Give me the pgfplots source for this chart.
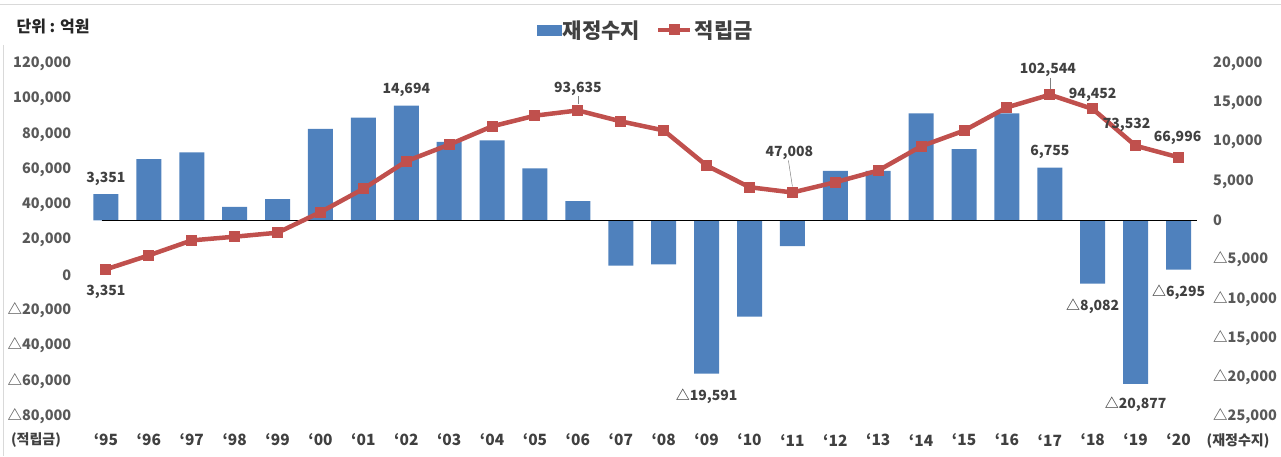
\documentclass[border=0pt]{standalone}
\usepackage{fontspec}
\setmainfont{Noto Sans CJK KR}
\usepackage{pgfplots}
\pgfplotsset{compat=1.18}
\usepackage{pgfplotstable}

\definecolor{barblue}{HTML}{4F81BD}
\definecolor{linered}{HTML}{C0504D}
\definecolor{ticklab}{HTML}{595959}
\definecolor{datalab}{HTML}{404040}

% 재정수지 (right axis)
\pgfplotstableread{
x bal
0 3351
1 7850
2 8710
3 1750
4 2740
5 11720
6 13130
7 14694
8 10060
9 10240
10 6660
11 2480
12 -5790
13 -5610
14 -19591
15 -12310
16 -3270
17 6350
18 6350
19 13690
20 9130
21 13690
22 6755
23 -8082
24 -20877
25 -6295
}\bartable

% 적립금 (left axis)
\pgfplotstableread{
x res
0 3351
1 11280
2 19780
3 21880
4 24150
5 35830
6 49090
7 64740
8 74200
9 84580
10 90650
11 93635
12 87410
13 82260
14 62300
15 50000
16 47008
17 52830
18 59470
19 73240
20 82140
21 95350
22 102544
23 94452
24 73532
25 66996
}\linetable

\tikzset{lab/.style={font=\fontsize{14}{14}\selectfont\bfseries, text=datalab, inner sep=1pt}}

\begin{document}
\begin{tikzpicture}
\useasboundingbox (0pt,0pt) rectangle (1281pt,456pt);
\draw[gray!30, line width=0.8pt] (0pt,452pt) -- (1281pt,452pt);
\draw[gray!30, line width=0.8pt] (3pt,411pt) -- (3pt,0pt);

\node[anchor=west, font=\fontsize{16}{16}\selectfont\bfseries, text=black!85] at (13pt,429pt) {단위 : 억원};
\node[font=\fontsize{14}{14}\selectfont\bfseries, text=datalab] at (36pt,16pt) {(적립금)};
\node[font=\fontsize{14}{14}\selectfont\bfseries, text=datalab] at (1238pt,15pt) {(재정수지)};

\pgfplotsset{
  common/.style={
    at={(84.5pt,40pt)}, anchor=south west,
    scale only axis, width=1115.5pt, height=352pt,
    xmin=-0.5, xmax=25.5,
    axis line style={draw=none}, major tick length=0pt,
    scaled y ticks=false, scaled x ticks=false,
    clip=false,
  },
}

% ---------------- bars: 재정수지 ----------------
\begin{axis}[common,
  ymin=-25000, ymax=20000,
  xtick={0,...,25},
  xticklabels={`95,`96,`97,`98,`99,`00,`01,`02,`03,`04,`05,`06,`07,`08,`09,`10,`11,`12,`13,`14,`15,`16,`17,`18,`19,`20},
  xticklabel style={font=\fontsize{15.5}{15.5}\selectfont\bfseries, text=datalab, anchor=center, yshift=-24pt},
  ytick={-25000,-20000,-15000,-10000,-5000,0,5000,10000,15000,20000},
  yticklabels={{△25,000},{△20,000},{△15,000},{△10,000},{△5,000},{0},{5,000},{10,000},{15,000},{20,000}},
  yticklabel pos=right,
  yticklabel style={font=\fontsize{14.5}{14.5}\selectfont\bfseries, text=ticklab, anchor=west, inner sep=0pt, xshift=13pt},
]
\addplot[ybar, bar width=25pt, fill=barblue, draw=none] table[x=x, y=bal]{\bartable};
\draw[black, line width=1.5pt] (axis cs:-0.1,0) -- (axis cs:25.43,0);
\node[lab, yshift=15pt] at (axis cs:0,3351) {3,351};
\node[lab, yshift=15.5pt] at (axis cs:7,14694) {14,694};
\node[lab, yshift=15.5pt] at (axis cs:22,6755) {6,755};
\node[lab, yshift=-22.5pt] at (axis cs:14,-19591) {△19,591};
\node[lab, yshift=-22.5pt] at (axis cs:23,-8082) {△8,082};
\node[lab, yshift=-21pt] at (axis cs:24,-20877) {△20,877};
\node[lab, yshift=-22.5pt] at (axis cs:25,-6295) {△6,295};
\end{axis}

% ---------------- line: 적립금 ----------------
\begin{axis}[common,
  ymin=-80000, ymax=120000,
  xtick=\empty,
  ytick={-80000,-60000,-40000,-20000,0,20000,40000,60000,80000,100000,120000},
  yticklabels={{△80,000},{△60,000},{△40,000},{△20,000},{0},{20,000},{40,000},{60,000},{80,000},{100,000},{120,000}},
  yticklabel style={font=\fontsize{14.5}{14.5}\selectfont\bfseries, text=ticklab, anchor=east, inner sep=0pt, xshift=-13pt},
  legend columns=2,
  legend style={at={(0.503,1.0966)}, anchor=center, draw=none, fill=none,
    font=\fontsize{21}{21}\selectfont\bfseries, text=datalab,
    /tikz/every even column/.append style={column sep=14pt}},
]
\addlegendimage{legend image code/.code={\fill[barblue] (0pt,-5pt) rectangle (24pt,5pt);}}
\addlegendentry{재정수지}
\addplot[linered, line width=4.5pt, mark=square*, mark size=5pt, mark options={solid, line width=1pt},
  legend image code/.code={\draw[mark repeat=2, mark phase=2] plot coordinates {(0pt,0pt) (16pt,0pt) (32pt,0pt)};}]
  table[x=x, y=res]{\linetable};
\addlegendentry{적립금}
\draw[gray, line width=0.5pt] ([shift={(0pt,6pt)}]axis cs:11,93635) -- ([shift={(0pt,14pt)}]axis cs:11,93635);
\draw[gray, line width=0.5pt] ([shift={(0pt,6pt)}]axis cs:16,47008) -- ([shift={(-4pt,32pt)}]axis cs:16,47008);
\draw[gray, line width=0.5pt] ([shift={(0pt,6pt)}]axis cs:22,102544) -- ([shift={(0pt,17pt)}]axis cs:22,102544);
\node[lab, yshift=-23pt] at (axis cs:0,3351) {3,351};
\node[lab, yshift=21pt] at (axis cs:11,93635) {93,635};
\node[lab, yshift=40pt, xshift=-3pt] at (axis cs:16,47008) {47,008};
\node[lab, yshift=25pt, xshift=-2pt] at (axis cs:22,102544) {102,544};
\node[lab, yshift=14pt] at (axis cs:23,94452) {94,452};
\node[lab, yshift=21pt, xshift=-9pt] at (axis cs:24,73532) {73,532};
\node[lab, yshift=19pt, xshift=-1pt] at (axis cs:25,66996) {66,996};
\end{axis}
\end{tikzpicture}
\end{document}
